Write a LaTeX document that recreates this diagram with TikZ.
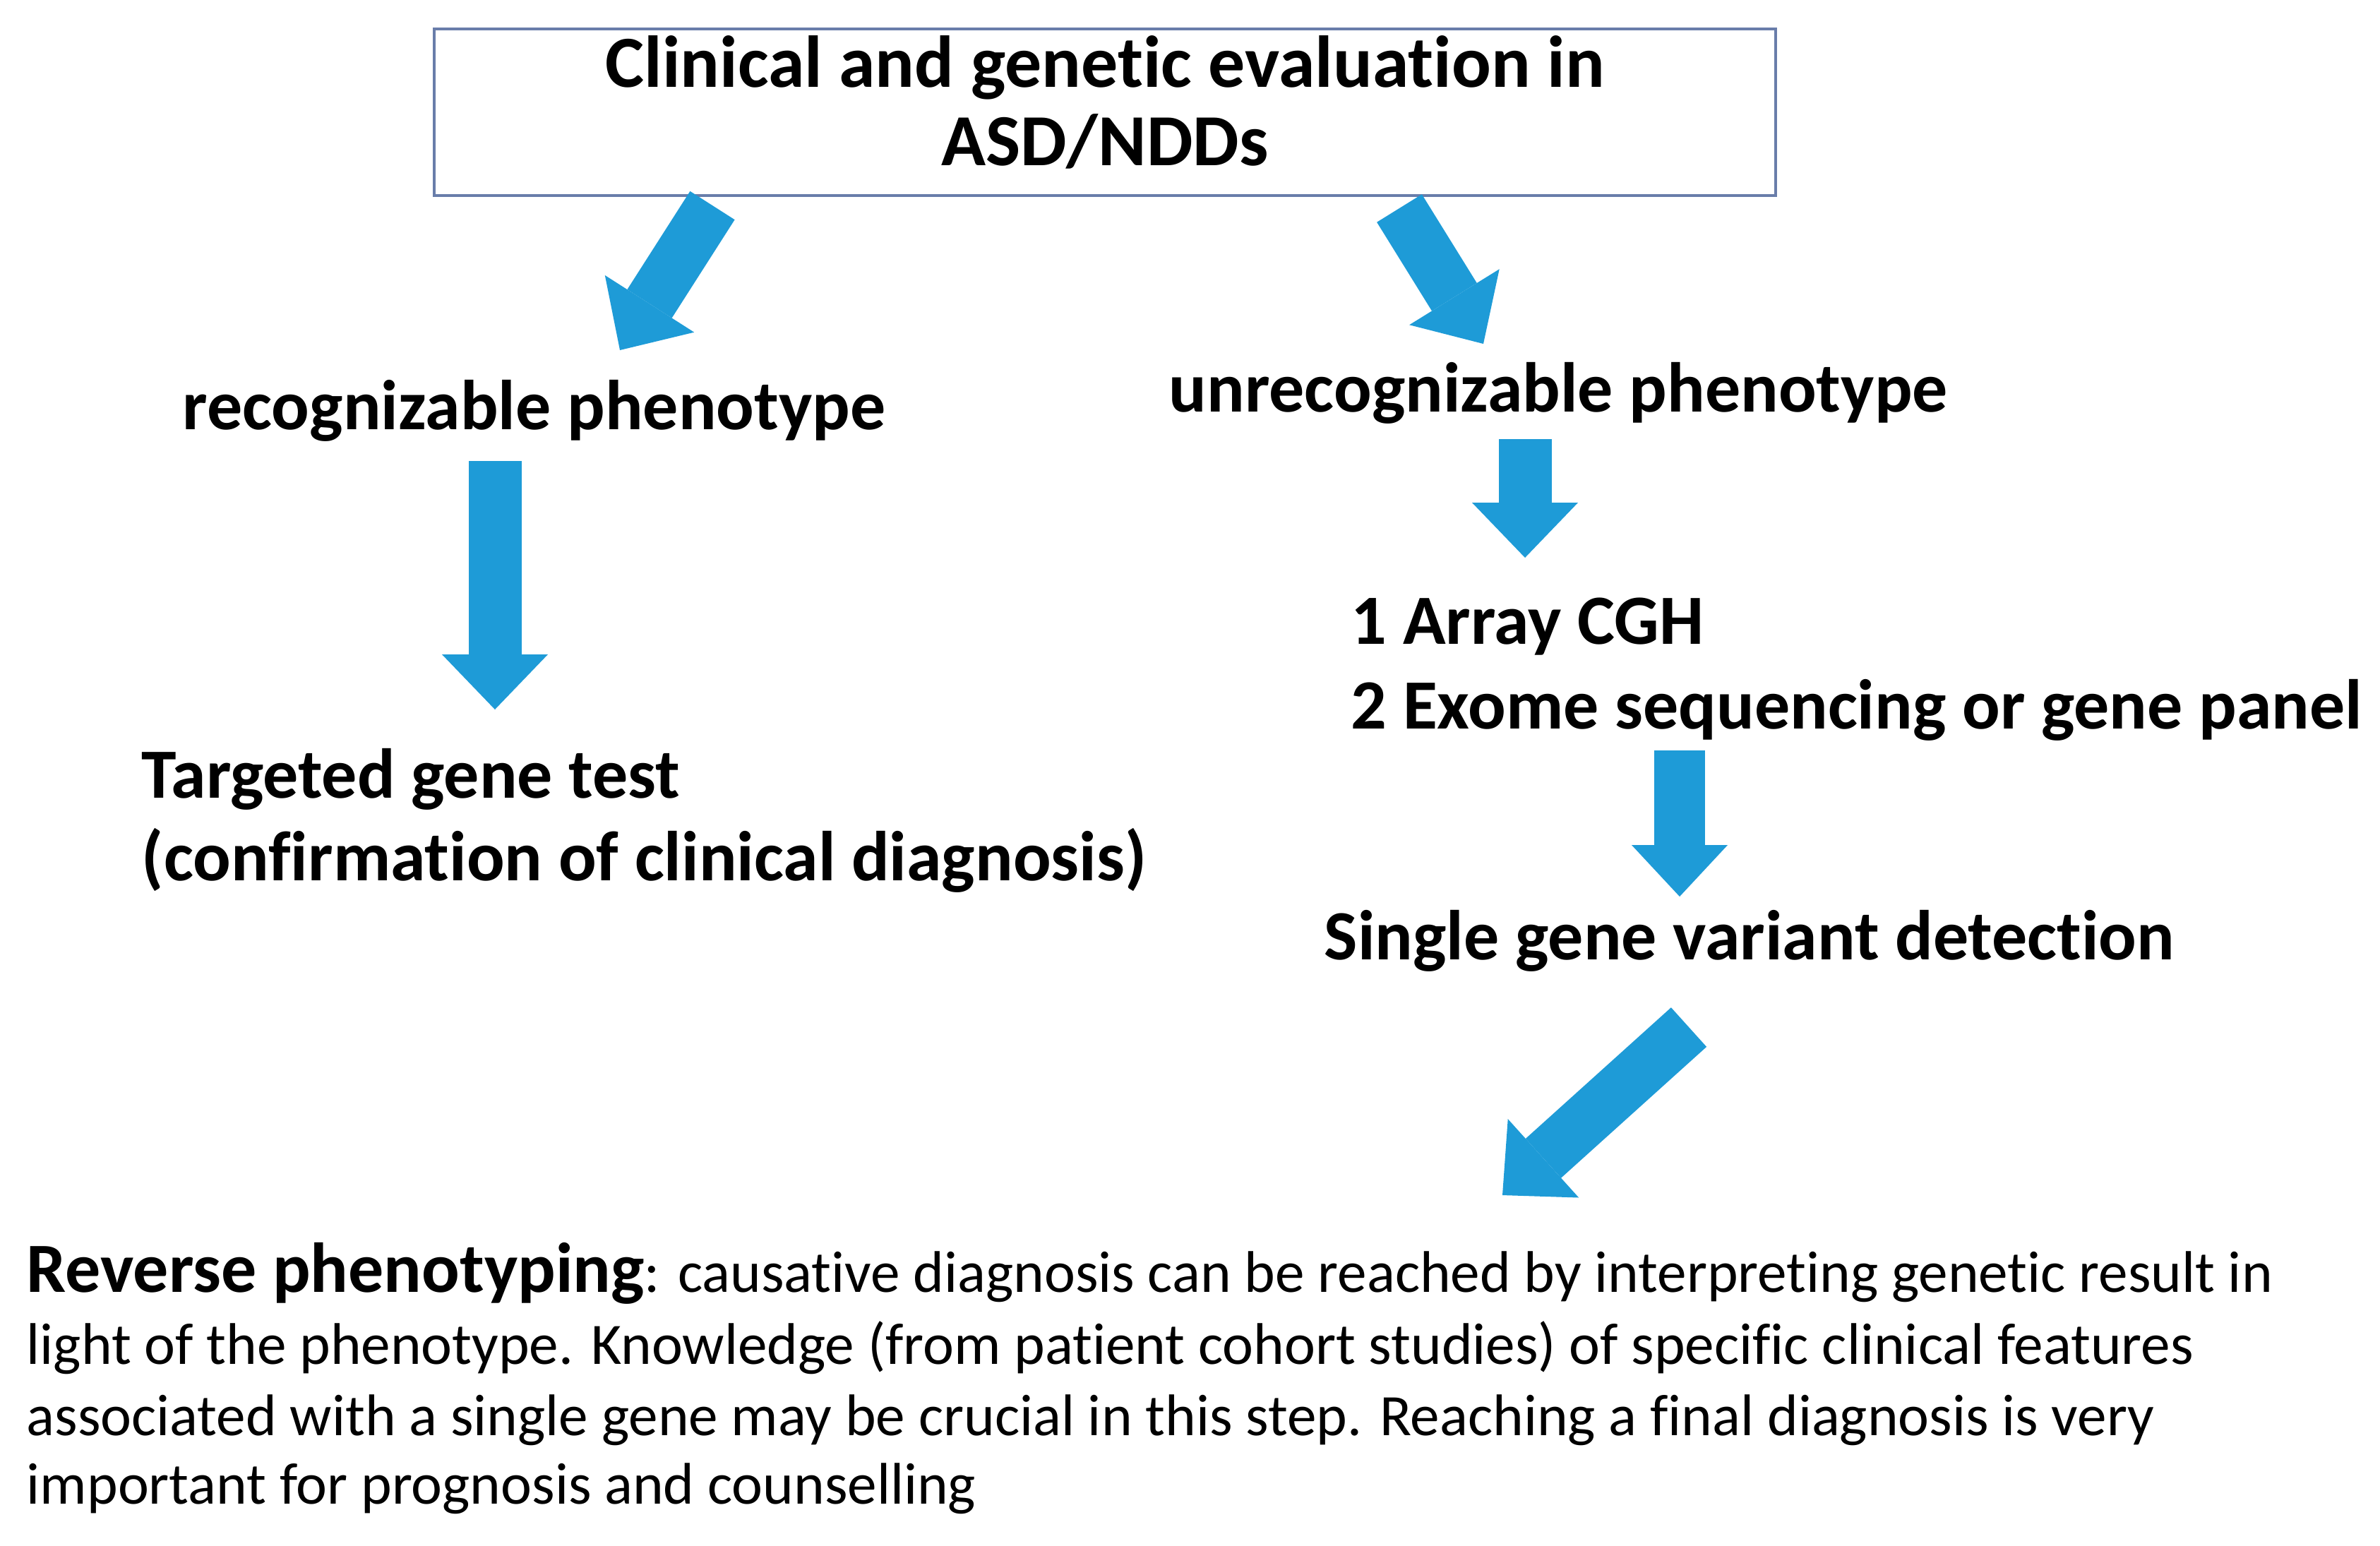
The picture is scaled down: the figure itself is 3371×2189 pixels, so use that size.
\documentclass[tikz,border=0pt]{standalone}
\usepackage{fontspec}
\setmainfont[Ligatures=NoCommon]{Carlito}
\usetikzlibrary{arrows.meta}
\definecolor{arrowblue}{RGB}{30,155,215}
\definecolor{boxedge}{RGB}{105,125,170}
\begin{document}
\begin{tikzpicture}[x=0.25pt,y=-0.25pt,
 lbl/.style={inner sep=0pt, anchor=base west, font=\fontsize{25}{30}\selectfont\bfseries},
 ttl/.style={inner sep=0pt, anchor=base, font=\fontsize{26}{32}\selectfont\bfseries},
 para/.style={inner sep=0pt, anchor=base west, font=\fontsize{20.8}{25}\selectfont},
 blockarrow/.style={arrowblue, line width=18.75pt, -{Triangle[width=37.5pt,length=19.5pt,line width=0pt]}},
]
\fill[white] (0,0) rectangle (3371,2189);
\useasboundingbox (0,0) rectangle (3371,2189);
\node[draw=boxedge, line width=1.2pt, minimum width=475pt, minimum height=59pt, inner sep=0pt] (box) at (1565,159) {};
\node[ttl] (t1) at (1565,123) {Clinical and genetic evaluation in};
\node[ttl] (t2) at (1565,234) {ASD/NDDs};
\node[lbl] (rec) at (258,608) {recognizable phenotype};
\node[lbl] (unrec) at (1655,583) {unrecognizable phenotype};
\node[lbl] (cgh) at (1913,912) {1 Array CGH};
\node[lbl] (exome) at (1913,1032) {2 Exome sequencing or gene panel};
\node[lbl] (tgt) at (200,1130) {Targeted gene test};
\node[lbl] (conf) at (200,1247) {(confirmation of clinical diagnosis)};
\node[lbl] (single) at (1875,1359) {Single gene variant detection};
\node[para] (p1) at (37,1830) {{\fontsize{25}{30}\selectfont\bfseries Reverse phenotyping}: causative diagnosis can be reached by interpreting genetic result in};
\node[para] (p2) at (37,1932) {light of the phenotype. Knowledge (from patient cohort studies) of specific clinical features};
\node[para] (p3) at (37,2033) {associated with a single gene may be crucial in this step. Reaching a final diagnosis is very};
\node[para] (p4) at (37,2130) {important for prognosis and counselling};
\coordinate (a1s) at (1009,291); \coordinate (a1e) at (878,496);
\coordinate (a2s) at (1982,295); \coordinate (a2e) at (2101,487);
\coordinate (a3s) at (701,653); \coordinate (a3e) at (701,1005);
\coordinate (a4s) at (2160,622); \coordinate (a4e) at (2160,790);
\coordinate (a5s) at (2379,1063); \coordinate (a5e) at (2379,1270);
\coordinate (a6s) at (2392,1455); \coordinate (a6e) at (2128,1693);
\draw[blockarrow] (a1s) -- (a1e);
\draw[blockarrow] (a2s) -- (a2e);
\draw[blockarrow] (a3s) -- (a3e);
\draw[blockarrow] (a4s) -- (a4e);
\draw[blockarrow, line width=18pt, -{Triangle[width=34pt,length=18.25pt,line width=0pt]}] (a5s) -- (a5e);
\draw[blockarrow] (a6s) -- (a6e);
\end{tikzpicture}
\end{document}
